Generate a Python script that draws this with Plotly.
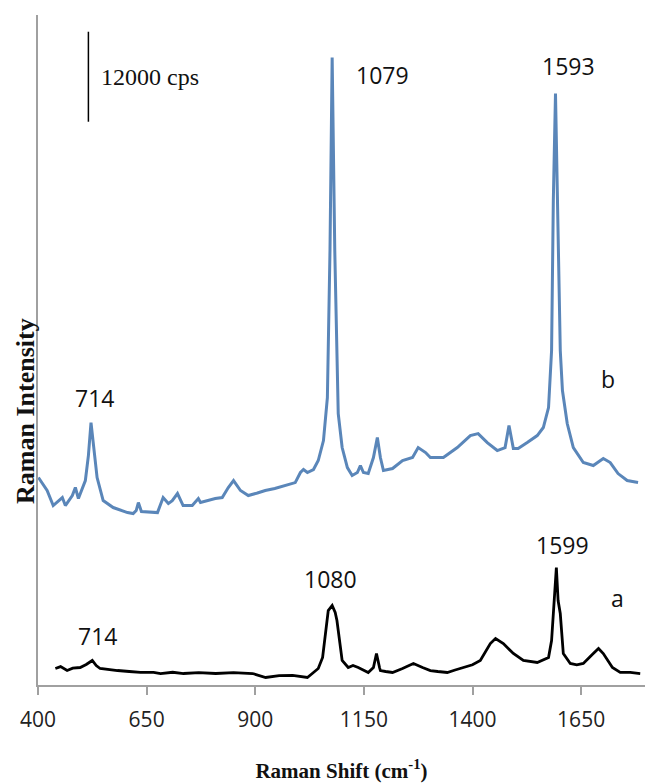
import plotly.graph_objects as go

# Spectrum b (blue) — Raman shift (cm-1) and intensity (cps)
shift_b = [401, 421, 435, 456, 463, 479, 486, 493, 509, 516, 522, 527, 536, 550, 573, 606,
           619, 626, 631, 638, 675, 688, 700, 709, 721, 734, 755, 769, 774, 808, 824, 838,
           850, 866, 884, 905, 923, 945, 969, 992, 1004, 1011, 1020, 1034, 1045, 1057, 1066, 1072,
           1077, 1083, 1091, 1100, 1112, 1123, 1135, 1142, 1149, 1160, 1172, 1181, 1188,
           1195, 1216, 1239, 1262, 1275, 1292, 1303, 1333, 1365, 1395, 1413, 1434, 1457,
           1475, 1484, 1494, 1505, 1526, 1549, 1563, 1575, 1582, 1586, 1591, 1595, 1602,
           1607, 1618, 1632, 1655, 1678, 1701, 1717, 1735, 1756, 1781]
int_b = [27660, 25930, 23930, 24990, 23930, 25260, 26330, 24860, 27260, 30590, 34990, 32590,
         27660, 24590, 23660, 22990, 22860, 23260, 24330, 23130, 22990, 24990, 24190, 24590,
         25530, 23930, 23930, 24860, 24330, 24860, 24990, 26330, 27260, 25930, 25260, 25600, 25930,
         26200, 26590, 26990, 28330, 28730, 28330, 28730, 29930, 32590, 38320, 57920, 83650, 57920,
         36190, 31660, 28990, 27930, 28330, 29260, 28330, 28190, 30330, 32990, 30330, 28590,
         28860, 29930, 30330, 31660, 30990, 30330, 30330, 31660, 33260, 33520, 32320, 31260,
         31660, 34590, 31530, 31530, 32320, 33260, 34330, 36990, 44590, 64590, 78850, 64590,
         44590, 39260, 34860, 31660, 29660, 29260, 30190, 29660, 28190, 27260, 26990]

# Spectrum a (black)
shift_a = [440, 452, 467, 480, 497, 511, 525, 534, 543, 560, 583, 610, 636, 666, 682, 710,
           735, 770, 809, 850, 894, 924, 955, 986, 1020, 1034, 1045, 1055, 1061, 1068, 1077,
           1084, 1088, 1095, 1100, 1114, 1125, 1137, 1150, 1160, 1172, 1179, 1186, 1188,
           1200, 1216, 1239, 1264, 1285, 1303, 1320, 1342, 1360, 1379, 1400, 1418, 1441,
           1453, 1471, 1494, 1517, 1549, 1575, 1582, 1586, 1593, 1597, 1602, 1609, 1625,
           1640, 1655, 1678, 1690, 1701, 1722, 1740, 1763, 1786]
int_a = [2200, 2450, 1930, 2250, 2330, 2730, 3270, 2600, 2200, 2050, 1930, 1800, 1670, 1670,
         1530, 1700, 1530, 1650, 1530, 1650, 1530, 1000, 1250, 1270, 1000, 1670, 2200, 3670,
         6600, 9930, 10600, 9660, 8600, 5270, 3270, 2330, 2600, 2330, 1900, 1670, 2330, 4200,
         2330, 1930, 1800, 1670, 2200, 2870, 2330, 1930, 1800, 1670, 2000, 2330, 2700, 3270,
         5530, 6200, 5530, 4200, 3270, 3000, 3670, 5930, 9530, 15660, 11260, 9530, 4200,
         2870, 2700, 2870, 4200, 4870, 4200, 2330, 1670, 1670, 1530]

# Peak / curve labels
label_text = ["1079", "1593", "714", "b", "714", "1080", "1599", "a"]
label_x = [1193, 1621, 530, 1711, 537, 1073, 1607, 1734]
label_y = [81380, 82580, 38320, 40860, 6470, 14200, 18600, 11660]

# Scale bar (12000 cps)
bar_x = 516
bar_y0 = 75100
bar_len = 12000
bar_text = "12000 cps"

fig = go.Figure()
fig.add_trace(go.Scatter(x=shift_b, y=int_b, mode="lines",
                         line=dict(color="#5a86b9", width=3), showlegend=False))
fig.add_trace(go.Scatter(x=shift_a, y=int_a, mode="lines",
                         line=dict(color="#000000", width=2.8), showlegend=False))

for t, x, y in zip(label_text, label_x, label_y):
    fig.add_annotation(x=x, y=y, text=t, showarrow=False,
                       font=dict(family="Open Sans", size=23, color="#111111"),
                       xanchor="center", yanchor="middle")

fig.add_shape(type="line", x0=bar_x, x1=bar_x, y0=bar_y0, y1=bar_y0 + bar_len,
              xref="x", yref="y", line=dict(color="#000000", width=1.5))
fig.add_annotation(x=bar_x + 25, y=bar_y0 + bar_len / 2, text=bar_text, showarrow=False,
                   font=dict(family="Liberation Serif", size=24, color="#111111"),
                   xanchor="left", yanchor="middle")

# Y-axis title placed as a rotated annotation (its centre sits below the plot centre)
fig.add_annotation(xref="paper", yref="paper", x=-0.0198, y=0.409,
                   text="<b>Raman Intensity</b>", textangle=-90, showarrow=False,
                   font=dict(family="Liberation Serif", size=26, color="#111111"),
                   xanchor="center", yanchor="middle")

fig.update_layout(
    width=645, height=783,
    margin=dict(l=38, r=0, t=15, b=98),
    paper_bgcolor="white", plot_bgcolor="white",
    xaxis=dict(range=[400, 1797], tickvals=[400, 650, 900, 1150, 1400, 1650],
               showgrid=False, zeroline=False, showline=True, linecolor="#a0a0a0",
               linewidth=1.5, ticks="outside", ticklen=8, tickcolor="#a0a0a0",
               tickwidth=1.5, ticklabelstandoff=7,
               tickfont=dict(family="Open Sans", size=21, color="#222222"),
               title=dict(text="<b>Raman Shift (cm<sup>-1</sup>)</b>", standoff=31,
                          font=dict(family="Liberation Serif", size=21, color="#111111"))),
    yaxis=dict(range=[0, 89330], showgrid=False, zeroline=False, showline=True,
               linecolor="#a0a0a0", linewidth=1.5, showticklabels=False, ticks=""),
)

fig.write_html("out.html")
